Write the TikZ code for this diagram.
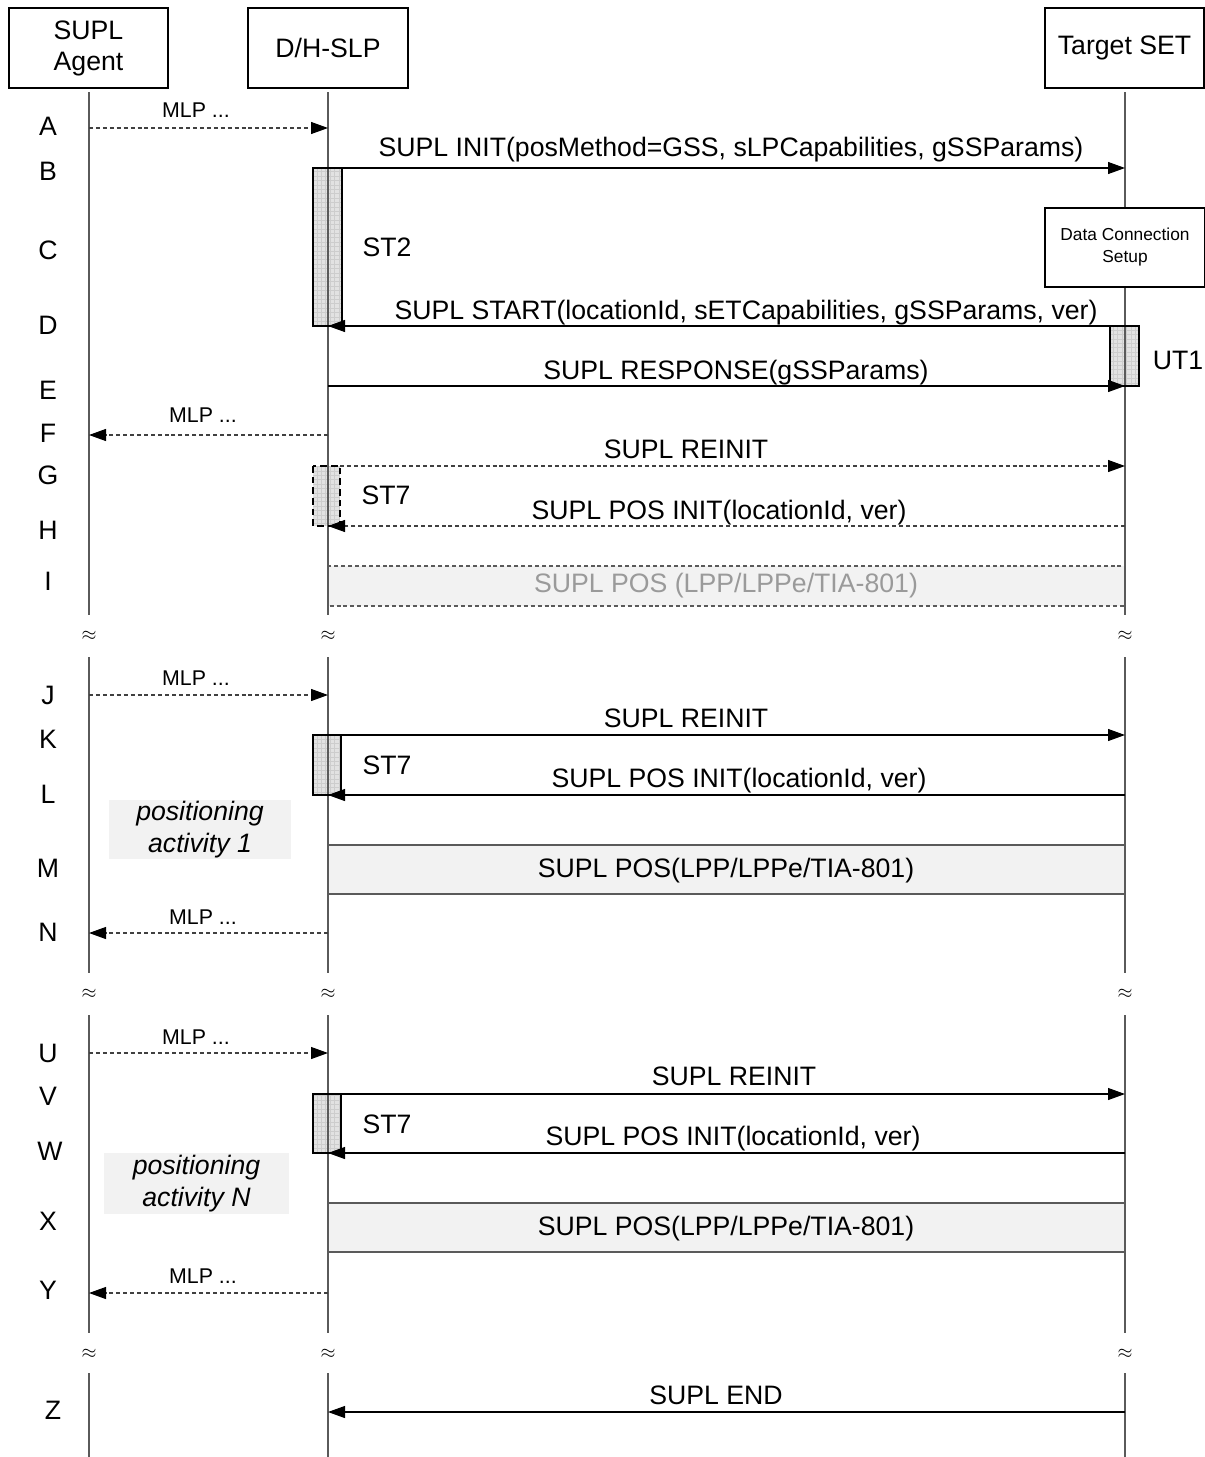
\documentclass[tikz,border=0pt]{standalone}
\usepackage{fontspec}
\setmainfont{Liberation Sans}
\usetikzlibrary{arrows.meta}
\definecolor{lifec}{HTML}{5A5A5A}
\definecolor{dashc}{HTML}{404040}
\definecolor{actfill}{HTML}{E2E2E2}
\definecolor{actgrid}{HTML}{CDCDCD}
\definecolor{posfill}{HTML}{F2F2F2}
\definecolor{posedge}{HTML}{5A5A5A}
\definecolor{greytext}{HTML}{9A9A9A}
\tikzset{
  lifeline/.style={draw=lifec, line width=1.1pt},
  msg/.style={draw=black, line width=0.8pt, -{Triangle[length=12.75pt,width=9pt,black]}},
  dmsg/.style={draw=dashc, line width=0.8pt, dash pattern=on 3pt off 2.2pt, -{Triangle[length=12.75pt,width=9pt,black]}},
  lbl/.style={font=\fontsize{20}{23}\selectfont, anchor=base, inner sep=0pt},
  slbl/.style={font=\fontsize{16}{18}\selectfont, anchor=base, inner sep=0pt},
  letter/.style={font=\fontsize{20}{22}\selectfont, anchor=base, inner sep=0pt},
  head/.style={draw=black, line width=0.8pt, minimum height=60pt, align=center, font=\fontsize{20}{23.25}\selectfont, fill=white, inner sep=0pt},
  brk/.style={font=\fontsize{14}{14}\selectfont, inner sep=0pt},
  actedge/.style={draw=black, line width=0.9pt},
  posbox/.style={fill=posfill, draw=posedge, line width=0.9pt},
  posact/.style={fill=posfill, inner sep=0pt, align=center, font=\fontsize{20}{24}\selectfont\itshape},
}
\newcommand\actbar[4]{%
  \fill[actfill] (#1,#2) rectangle (#3,#4);
  \draw[actgrid, line width=0.3pt, step=3.3pt] (#1,#4) grid (#3,#2);
}
\begin{document}
\begin{tikzpicture}[x=0.75pt,y=-0.75pt]
\useasboundingbox (0,0) rectangle (1205,1457);
\coordinate (AG) at (89,0);
\coordinate (SL) at (328,0);
\coordinate (SE) at (1125,0);

% activation fills (under lifelines)
\actbar{313}{168}{342}{326}
\actbar{1110}{326}{1139}{386}
\actbar{313}{466}{340}{526}
\actbar{313}{735}{341}{795}
\actbar{313}{1094}{341}{1153}

% SUPL POS box fill (dashed)
\fill[posfill] (328,566) rectangle (1125,606);

% lifelines
\foreach \c in {AG,SL,SE}{
  \draw[lifeline] (\c |- 0,92) -- (\c |- 0,615);
  \draw[lifeline] (\c |- 0,657) -- (\c |- 0,973);
  \draw[lifeline] (\c |- 0,1015) -- (\c |- 0,1333);
  \draw[lifeline] (\c |- 0,1373) -- (\c |- 0,1457);
}
\draw[draw=posedge, line width=0.9pt, dash pattern=on 3pt off 2.2pt] (328,566) rectangle (1125,606);

% headers
\node[head, minimum width=119.25pt] (hAG) at (88.5,48) {SUPL\\Agent};
\node[head, minimum width=120pt] (hSL) at (328,48) {D/H-SLP};
\node[head, minimum width=119.25pt] (hSE) at (1124.5,48) {Target SET};

% break marks
\foreach \c in {AG,SL,SE}{
  \node[brk] (b1\c) at (\c |- 0,636) {$\approx$};
  \node[brk] (b2\c) at (\c |- 0,994) {$\approx$};
  \node[brk] (b3\c) at (\c |- 0,1354) {$\approx$};
}

% activation borders
\draw[actedge] (313,168) rectangle (342,326);
\draw[actedge] (1110,326) rectangle (1139,386);
\draw[actedge, dash pattern=on 5pt off 3pt] (313,466) rectangle (340,526);
\draw[actedge] (313,735) rectangle (341,795);
\draw[actedge] (313,1094) rectangle (341,1153);

% Data connection setup
\node[draw=black, line width=0.8pt, fill=white, minimum width=120pt, minimum height=59.25pt, align=center, inner sep=0pt, font=\fontsize{13}{16.5}\selectfont] (dcs) at (1125,247.5) {Data Connection\\Setup};

% letters
\node[letter] (kA) at (48,135) {A};
\node[letter] (kB) at (48,180) {B};
\node[letter] (kC) at (48,259) {C};
\node[letter] (kD) at (48,334) {D};
\node[letter] (kE) at (48,399) {E};
\node[letter] (kF) at (48,442) {F};
\node[letter] (kG) at (48,484) {G};
\node[letter] (kH) at (48,539) {H};
\node[letter] (kI) at (48,590) {I};
\node[letter] (kJ) at (48,704) {J};
\node[letter] (kK) at (48,748) {K};
\node[letter] (kL) at (48,803) {L};
\node[letter] (kM) at (48,877) {M};
\node[letter] (kN) at (48,941) {N};
\node[letter] (kU) at (48,1062) {U};
\node[letter] (kV) at (48,1105) {V};
\node[letter] (kW) at (50,1160) {W};
\node[letter] (kX) at (48,1230) {X};
\node[letter] (kY) at (48,1299) {Y};
\node[letter] (kZ) at (53,1419) {Z};

% A
\draw[dmsg] (AG |- 0,128) -- (SL |- 0,128);
\node[slbl] (lA) at (196,117) {MLP ...};
% B
\coordinate (bB) at (342,168);
\draw[msg] (bB) -- (SE |- 0,168);
\node[lbl] (lB) at (731,156) {SUPL INIT(posMethod=GSS, sLPCapabilities, gSSParams)};
\node[lbl] (st2) at (387,256) {ST2};
% D
\draw[msg] (SE |- 0,326) -- (SL |- 0,326);
\node[lbl] (lD) at (746,319) {SUPL START(locationId, sETCapabilities, gSSParams, ver)};
\node[lbl] (ut1) at (1178,369) {UT1};
% E
\draw[msg] (SL |- 0,386) -- (SE |- 0,386);
\node[lbl] (lE) at (736,379) {SUPL RESPONSE(gSSParams)};
% F
\draw[dmsg] (SL |- 0,435) -- (AG |- 0,435);
\node[slbl] (lF) at (203,422) {MLP ...};
% G
\coordinate (bG) at (340,466);
\draw[dmsg] (bG) -- (SE |- 0,466);
\node[lbl] (lG) at (686,458) {SUPL REINIT};
\node[lbl] (st7a) at (386,504) {ST7};
% H
\draw[dmsg] (SE |- 0,526) -- (SL |- 0,526);
\node[lbl] (lH) at (719,519) {SUPL POS INIT(locationId, ver)};
% I
\node[lbl, text=greytext] (lI) at (726,592) {SUPL POS (LPP/LPPe/TIA-801)};

% J
\draw[dmsg] (AG |- 0,695) -- (SL |- 0,695);
\node[slbl] (lJ) at (196,685) {MLP ...};
% K
\coordinate (bK) at (341,735);
\draw[msg] (bK) -- (SE |- 0,735);
\node[lbl] (lK) at (686,727) {SUPL REINIT};
\node[lbl] (st7b) at (387,774) {ST7};
% L
\draw[msg] (SE |- 0,795) -- (SL |- 0,795);
\node[lbl] (lL) at (739,787) {SUPL POS INIT(locationId, ver)};
\node[posact, minimum width=136.5pt, minimum height=44.25pt] (pa1) at (200,829.5) {positioning\\activity 1};
% M
\draw[posbox] (328,845) rectangle (1125,894);
\node[lbl] (lM) at (726,877) {SUPL POS(LPP/LPPe/TIA-801)};
% N
\draw[dmsg] (SL |- 0,933) -- (AG |- 0,933);
\node[slbl] (lN) at (203,924) {MLP ...};

% U
\draw[dmsg] (AG |- 0,1053) -- (SL |- 0,1053);
\node[slbl] (lU) at (196,1044) {MLP ...};
% V
\coordinate (bV) at (341,1094);
\draw[msg] (bV) -- (SE |- 0,1094);
\node[lbl] (lV) at (734,1085) {SUPL REINIT};
\node[lbl] (st7c) at (387,1133) {ST7};
% W
\draw[msg] (SE |- 0,1153) -- (SL |- 0,1153);
\node[lbl] (lW) at (733,1145) {SUPL POS INIT(locationId, ver)};
\node[posact, minimum width=138.75pt, minimum height=45.75pt] (paN) at (196.5,1183.5) {positioning\\activity N};
% X
\draw[posbox] (328,1203) rectangle (1125,1252);
\node[lbl] (lX) at (726,1235) {SUPL POS(LPP/LPPe/TIA-801)};
% Y
\draw[dmsg] (SL |- 0,1293) -- (AG |- 0,1293);
\node[slbl] (lY) at (203,1283) {MLP ...};

% Z
\draw[msg] (SE |- 0,1412) -- (SL |- 0,1412);
\node[lbl] (lZ) at (716,1404) {SUPL END};
\end{tikzpicture}
\end{document}
